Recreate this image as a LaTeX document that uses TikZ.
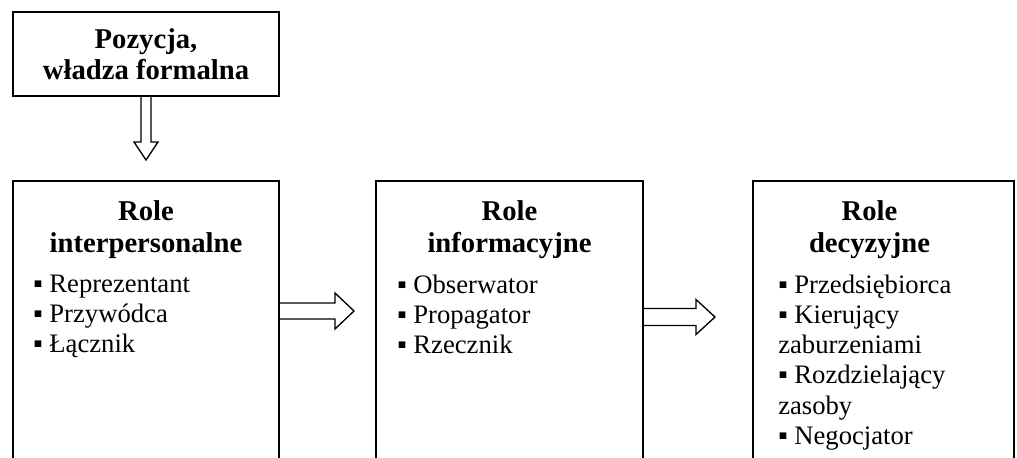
\documentclass[tikz,border=0pt]{standalone}
\usepackage{fontspec}
\setmainfont{Liberation Serif}
\usetikzlibrary{positioning}

\begin{document}
\begin{tikzpicture}[x=0.75pt, y=-0.75pt]
	\tikzstyle{roleBox}=[draw, rectangle, line width=1.5pt, inner sep=0pt, anchor=north west]
	\tikzstyle{titleStyle}=[inner sep=0pt, align=center, font=\fontsize{21.5}{24}\selectfont\bfseries]
	\tikzstyle{itemStyle}=[inner sep=0pt, align=left, anchor=north west, font=\fontsize{20}{22.65}\selectfont]
	\tikzstyle{hollowArrow}=[draw, line width=1pt, line join=miter]
	\useasboundingbox (0,0) rectangle (1017,457);
	\clip (0,0) rectangle (1017,457);
	% top box
	\node[roleBox, minimum width=199.5pt, minimum height=63pt] (pos) at (12,11) {};
	\node[titleStyle, font=\fontsize{21.5}{23.25}\selectfont\bfseries] (posText) at (pos.center) {Pozycja,\\władza formalna};
	% role boxes
	\node[roleBox, minimum width=199.5pt, minimum height=225pt] (inter) at (12,180) {};
	\node[roleBox, minimum width=200.25pt, minimum height=225pt] (info) at (375,180) {};
	\node[roleBox, minimum width=195.75pt, minimum height=225pt] (decis) at (752,180) {};
	\node[titleStyle, below=15pt of inter.north] (interTitle) {Role\\interpersonalne};
	\node[titleStyle, below=15pt of info.north] (infoTitle) {Role\\informacyjne};
	\node[titleStyle, below=15pt of decis.north, xshift=-10.5pt] (decisTitle) {Role\\decyzyjne};
	\node[itemStyle] (interList) at ([xshift=15.75pt, yshift=-12pt] interTitle.south -| inter.west)
		{▪ Reprezentant\\▪ Przywódca\\▪ Łącznik};
	\node[itemStyle] (infoList) at ([xshift=16.5pt, yshift=-12pt] infoTitle.south -| info.west)
		{▪ Obserwator\\▪ Propagator\\▪ Rzecznik};
	\node[itemStyle] (decisList) at ([xshift=19.5pt, yshift=-12pt] decisTitle.south -| decis.west)
		{▪ Przedsiębiorca\\▪ Kierujący\\zaburzeniami\\▪ Rozdzielający\\zasoby\\▪ Negocjator};
	% arrows
	\coordinate (a0) at (pos.south);
	\coordinate (a1) at (inter.east |- 0,311);
	\coordinate (a2) at (info.east |- 0,317);
	\draw[hollowArrow] (a0) ++(-5,0) -- ++(0,45) -- ++(-7,0) -- ++(12,18) -- ++(12,-18) -- ++(-7,0) -- ++(0,-45);
	\draw[hollowArrow] (a1) ++(0,-8) -- ++(55,0) -- ++(0,-10) -- ++(19,18) -- ++(-19,18) -- ++(0,-10) -- ++(-55,0);
	\draw[hollowArrow] (a2) ++(0,-8.5) -- ++(52,0) -- ++(0,-9) -- ++(19,17.5) -- ++(-19,17.5) -- ++(0,-9) -- ++(-52,0);
\end{tikzpicture}
\end{document}
